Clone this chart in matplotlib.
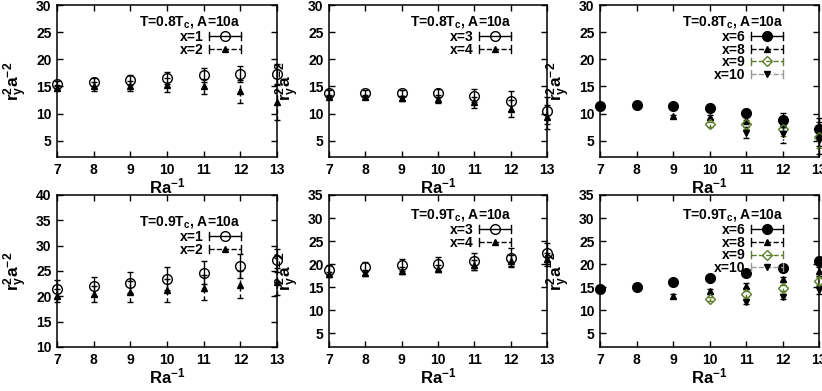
import matplotlib
matplotlib.use('Agg')
import matplotlib.pyplot as plt
from matplotlib.lines import Line2D
from matplotlib.legend_handler import HandlerBase
import numpy as np

plt.rcParams['font.family'] = ['Liberation Sans', 'DejaVu Sans']
plt.rcParams['font.weight'] = 'bold'
plt.rcParams['axes.labelweight'] = 'bold'
plt.rcParams['mathtext.fontset'] = 'custom'
plt.rcParams['mathtext.bf'] = 'Liberation Sans:bold'
plt.rcParams['mathtext.rm'] = 'Liberation Sans:bold'
plt.rcParams['mathtext.default'] = 'bf'

#%% data
ra = [7, 8, 9, 10, 11, 12, 13]

# T=0.8Tc
t08_x1 = [15.5, 15.8, 16.2, 16.6, 17.1, 17.3, 17.2]
t08_x1_err = [0.5, 0.8, 0.9, 1.1, 1.3, 1.5, 1.9]
t08_x2 = [14.8, 15.0, 15.1, 15.3, 15.0, 14.1, 12.1]
t08_x2_err = [0.5, 0.8, 0.9, 1.3, 1.4, 2.1, 3.3]
t08_x3 = [13.8, 13.8, 13.8, 13.8, 13.3, 12.3, 10.5]
t08_x3_err = [0.5, 0.5, 0.6, 0.8, 1.2, 1.9, 2.5]
t08_x4 = [13.1, 13.1, 12.8, 12.7, 12.1, 10.9, 9.3]
t08_x4_err = [0.3, 0.4, 0.5, 0.7, 1.0, 1.6, 2.2]
t08_x6 = [11.4, 11.5, 11.4, 11.0, 10.1, 8.8, 7.1]
t08_x6_err = [0.2, 0.2, 0.3, 0.4, 0.7, 1.3, 2.0]
t08_x8 = [9.5, 9.4, 8.9, 8.1, 6.3]
t08_x8_err = [0.3, 0.4, 0.8, 1.3, 2.2]
t08_x9 = [8.0, 8.0, 7.2, 5.7]
t08_x9_err = [0.5, 0.8, 1.4, 2.0]
t08_x10 = [6.5, 6.2, 5.1]
t08_x10_err = [1.0, 1.6, 2.5]

# T=0.9Tc
t09_x1 = [21.5, 22.0, 22.7, 23.5, 24.7, 26.0, 27.1]
t09_x1_err = [1.8, 1.9, 2.1, 2.2, 2.3, 2.3, 2.3]
t09_x2 = [20.1, 20.5, 20.9, 21.2, 21.7, 22.3, 22.9]
t09_x2_err = [1.3, 1.6, 2.1, 2.3, 2.5, 2.7, 2.7]
t09_x3 = [18.7, 19.3, 19.7, 20.1, 20.6, 21.4, 22.3]
t09_x3_err = [1.0, 1.1, 1.3, 1.5, 1.8, 2.0, 2.3]
t09_x4 = [17.8, 18.1, 18.6, 19.0, 19.8, 20.7, 21.0]
t09_x4_err = [0.5, 0.6, 0.7, 0.8, 1.0, 1.2, 1.4]
t09_x6 = [14.6, 15.1, 16.1, 17.0, 18.1, 19.1, 20.7]
t09_x6_err = [0.2, 0.2, 0.3, 0.3, 0.4, 0.5, 0.8]
t09_x8 = [13.1, 14.1, 15.3, 16.7, 18.4]
t09_x8_err = [0.5, 0.5, 0.5, 0.6, 0.9]
t09_x9 = [12.4, 13.5, 14.8, 16.4]
t09_x9_err = [0.4, 0.6, 0.6, 0.9]
t09_x10 = [11.8, 12.9, 14.4]
t09_x10_err = [0.5, 0.5, 0.8]

titles = ['T=0.8T$_c$, A=10a', 'T=0.9T$_c$, A=10a']

olive = '#5b7d28'
# series style: label, linestyle, line colour, marker, marker face, marker edge, size
style = {
    1: ('x=1', '-', 'k', 'o', 'none', 'k', 7),
    2: ('x=2', (0, (3, 2)), 'k', '^', 'k', 'k', 5),
    3: ('x=3', '-', 'k', 'o', 'none', 'k', 7),
    4: ('x=4', (0, (3, 2)), 'k', '^', 'k', 'k', 5),
    6: ('x=6', '-', 'k', 'o', 'k', 'k', 7),
    8: ('x=8', (0, (3, 2)), 'k', '^', 'k', 'k', 5),
    9: ('x=9', (0, (2, 2)), olive, 'D', 'none', olive, 5),
    10: ('x=10', (0, (1, 1)), '#999999', 'v', 'k', 'k', 5),
}


class CapLineHandler(HandlerBase):
    # gnuplot-like key sample: horizontal line with caps and a marker in the middle
    def create_artists(self, legend, orig, xdescent, ydescent, width, height, fontsize, trans):
        y = height / 2 - ydescent
        x0, x1 = -xdescent, width - xdescent
        c = orig.get_color()
        h = height * 0.4
        arts = [Line2D([x0, x1], [y, y], color=c, ls=orig.get_linestyle(), lw=1),
                Line2D([x0, x0], [y - h, y + h], color=c, lw=1),
                Line2D([x1, x1], [y - h, y + h], color=c, lw=1),
                Line2D([(x0 + x1) / 2], [y], ls='none', marker=orig.get_marker(),
                       mfc=orig.get_markerfacecolor(), mec=orig.get_markeredgecolor(),
                       ms=orig.get_markersize(), mew=1)]
        for a in arts:
            a.set_transform(trans)
        return arts


def draw(ax, series, title, ylim, yticks, leg_y):
    handles = []
    for key, xs, ys, es in series:
        lab, ls, lc, mk, mfc, mec, ms = style[key]
        eb = ax.errorbar(xs, ys, yerr=es, fmt=mk, mfc=mfc, mec=mec, ms=ms, mew=1,
                         ecolor=olive if key == 9 else 'k', elinewidth=1, capsize=2.2,
                         capthick=1, clip_on=False, zorder=3)
        for b in eb[2]:
            b.set_linestyle(ls)
            b.set_clip_on(False)
        for cl in eb[1]:
            cl.set_clip_on(False)
        handles.append(Line2D([], [], color=lc, ls=ls, marker=mk, mfc=mfc, mec=mec,
                              ms=ms, label=lab))
    ax.set_xlim(7, 13)
    ax.set_ylim(*ylim)
    ax.set_xticks(ra)
    ax.set_yticks(yticks)
    ax.tick_params(direction='in', top=True, right=True, length=4, width=1,
                   labelsize=10, pad=4)
    for s in ax.spines.values():
        s.set_linewidth(1.1)
    ax.set_xlabel('Ra$^{-1}$', fontsize=12, labelpad=0)
    ax.set_ylabel('r$_y^2$a$^{-2}$', fontsize=12.5)
    ax.yaxis.set_label_coords(-0.125, 0.5)
    leg = ax.legend(handles=handles, title=title, loc='upper right',
                    bbox_to_anchor=(0.835, leg_y), frameon=False, fontsize=10,
                    title_fontsize=10, markerfirst=False, alignment='right',
                    handlelength=2.3, handletextpad=0.4, labelspacing=-0.1,
                    borderpad=0, borderaxespad=0,
                    handler_map={Line2D: CapLineHandler()})
    leg.get_title().set_fontweight('bold')
    leg._legend_box.sep = 0


fig = plt.figure(figsize=(8.22, 3.91), dpi=100)
W, H = 822, 391
cols = [(57, 277), (329, 547), (600, 819)]
rows = [(5, 157), (195, 347)]
axs = []
for r, (yt, yb) in enumerate(rows):
    for c, (xl, xr) in enumerate(cols):
        axs.append(fig.add_axes([xl / W, 1 - yb / H, (xr - xl) / W, (yb - yt) / H]))

yt5 = [5, 10, 15, 20, 25, 30]
draw(axs[0], [(1, ra, t08_x1, t08_x1_err), (2, ra, t08_x2, t08_x2_err)],
     titles[0], (2, 30), yt5, 0.94)
draw(axs[1], [(3, ra, t08_x3, t08_x3_err), (4, ra, t08_x4, t08_x4_err)],
     titles[0], (2, 30), yt5, 0.94)
draw(axs[2], [(6, ra, t08_x6, t08_x6_err), (8, ra[2:], t08_x8, t08_x8_err),
              (9, ra[3:], t08_x9, t08_x9_err), (10, ra[4:], t08_x10, t08_x10_err)],
     titles[0], (2, 30), yt5, 0.94)
draw(axs[3], [(1, ra, t09_x1, t09_x1_err), (2, ra, t09_x2, t09_x2_err)],
     titles[1], (10, 40), [10, 15, 20, 25, 30, 35, 40], 0.875)
draw(axs[4], [(3, ra, t09_x3, t09_x3_err), (4, ra, t09_x4, t09_x4_err)],
     titles[1], (2, 35), [5, 10, 15, 20, 25, 30, 35], 0.92)
draw(axs[5], [(6, ra, t09_x6, t09_x6_err), (8, ra[2:], t09_x8, t09_x8_err),
              (9, ra[3:], t09_x9, t09_x9_err), (10, ra[4:], t09_x10, t09_x10_err)],
     titles[1], (2, 35), [5, 10, 15, 20, 25, 30, 35], 0.92)

fig.savefig('out.png', dpi=100)
